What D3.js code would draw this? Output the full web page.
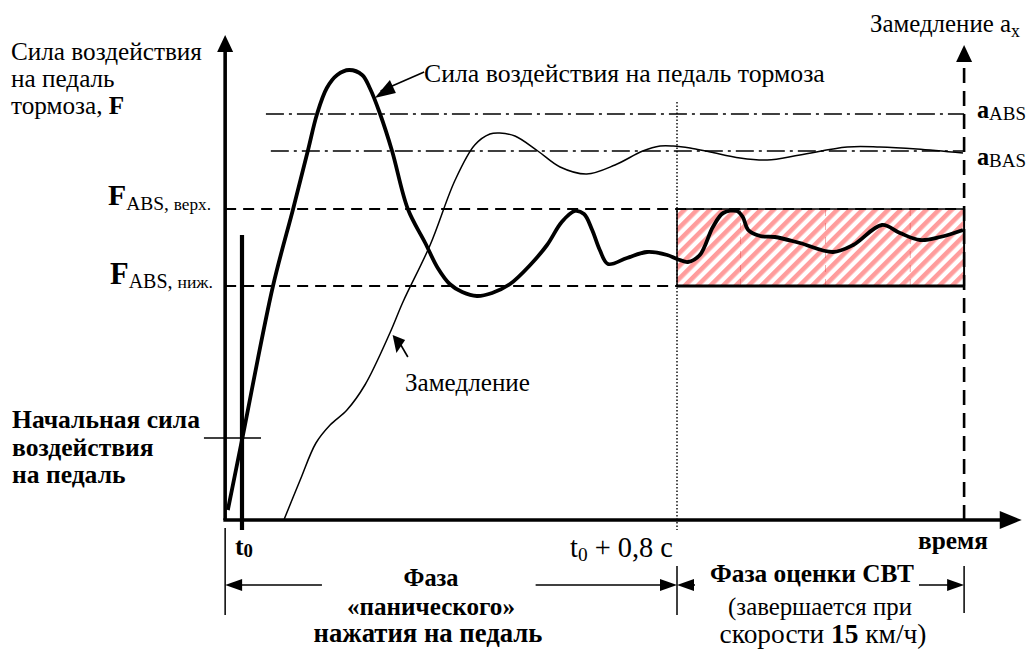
<!DOCTYPE html>
<html><head><meta charset="utf-8">
<script src="https://cdn.jsdelivr.net/npm/d3@7"></script>
<style>body{margin:0;background:#fff}</style>
</head><body>
<svg id="c" width="1028" height="653"></svg>
<script>
// ---- data (time in s from t0, values in relative units 0..100) ----
const forceT=[-0.026,0,0.057,0.094,0.121,0.138,0.156,0.175,0.197,0.221,0.235,0.254,0.276,0.305,0.337,0.360,0.382,0.405,0.432,0.460,0.493,0.530,0.561,0.588,0.612,0.629,0.644,0.658,0.673,0.708,0.745,0.782,0.800,0.820,0.842,0.866,0.885,0.910,0.921,0.931,0.953,0.980,1.026,1.087,1.124,1.177,1.210,1.247,1.284,1.326];
const forceV=[2.0,16.0,46.8,62.2,73.8,81.2,86.4,89,90,89,86.4,81.2,73.8,62.2,55.4,50.4,47.2,45.6,44.8,45.4,47.2,51,55,59.6,61.8,61.2,58,54,51.2,52.4,53.6,53,52.2,51.6,53,58.6,61.4,61.8,60.6,58,56.8,56.6,55.4,53.6,55,59,57.4,56,56.6,58];
const decelT=[0.077,0.107,0.136,0.162,0.193,0.226,0.272,0.296,0.346,0.392,0.428,0.456,0.474,0.502,0.544,0.585,0.634,0.686,0.737,0.769,0.793,0.824,0.861,0.916,0.966,1.026,1.113,1.173,1.241,1.326];
const decelV=[0,8,15.4,19,22,27,37.4,43.6,55,68,75,77.2,77.4,76.8,73.8,70.6,69.2,71,73.8,74.8,74.8,74.4,73.6,72.4,72,73,74.6,74.6,74.2,73.4];
const levelNames=["aABS","aBAS","FabsTop","FabsBottom","Finit"];
const levelValues=[81.2,73.8,62.2,46.8,16.4];
const phaseTimes=[0,0.8,1.328];      // t0, t0+0.8 c, end of evaluation phase
const axisTimes=[-0.031,1.434];      // origin, arrow tip
const axisTop=[97,95];               // left / right axis arrow tips

const FONT='"Liberation Serif"';
const svg=d3.select("#c");
const x=d3.scaleLinear().domain([0,0.8]).range([242,677]);
const y=d3.scaleLinear().domain([0,100]).range([520,20]);
const lv=n=>levelValues[levelNames.indexOf(n)];
const X0=x(axisTimes[0]), XT=x(axisTimes[1]), Y0=y(0);
const X1=x(phaseTimes[1]), X2=x(phaseTimes[2]), XT0=x(phaseTimes[0]);

function line(x1,y1,x2,y2,w,dash){
  const l=svg.append("line").attr("x1",x1).attr("y1",y1).attr("x2",x2).attr("y2",y2)
   .attr("stroke","#000").attr("stroke-width",w);
  if(dash) l.attr("stroke-dasharray",dash);
  return l;
}
function head(tx,ty,dir,len,half){
  let p;
  if(dir==="up") p=[[tx,ty],[tx-half,ty+len],[tx+half,ty+len]];
  else if(dir==="right") p=[[tx,ty],[tx-len,ty-half],[tx-len,ty+half]];
  else p=[[tx,ty],[tx+len,ty-half],[tx+len,ty+half]];
  svg.append("path").attr("d","M"+p.join("L")+"Z").attr("fill","#000");
}

// hatch pattern
const defs=svg.append("defs");
const pat=defs.append("pattern").attr("id","hatch").attr("patternUnits","userSpaceOnUse")
 .attr("width",9).attr("height",9).attr("patternTransform","rotate(45)");
pat.append("rect").attr("width",4.6).attr("height",9).attr("fill","#ff9c9c");

// evaluation rectangle
svg.append("rect").attr("x",X1).attr("y",y(lv("FabsTop"))).attr("width",X2-X1)
 .attr("height",y(lv("FabsBottom"))-y(lv("FabsTop"))).attr("fill","url(#hatch)");
[0.917,1.073,1.229].forEach(t=>svg.append("line").attr("x1",x(t)).attr("x2",x(t))
 .attr("y1",y(lv("FabsTop"))).attr("y2",y(lv("FabsBottom"))).attr("stroke","#e03030")
 .attr("stroke-width",0.7).attr("stroke-dasharray","7,7").attr("opacity",0.6));
line(X1,y(lv("FabsTop")),X2,y(lv("FabsTop")),1.5);
line(X1,y(lv("FabsBottom")),X2,y(lv("FabsBottom")),3);
line(X1,y(lv("FabsTop")),X1,y(lv("FabsBottom")),1.5);
line(X2,y(lv("FabsTop")),X2,y(lv("FabsBottom")),2);

// reference levels
line(x(0.044),y(lv("aABS")),X2,y(lv("aABS")),1.6,"18,5,3,5");
line(x(0.053),y(lv("aBAS")),X2,y(lv("aBAS")),1.6,"18,5,3,5");
line(X0,y(lv("FabsTop")),X2,y(lv("FabsTop")),2.2,"11,7");
line(X0,y(lv("FabsBottom")),X2,y(lv("FabsBottom")),2.2,"11,7");
line(x(-0.070),y(lv("Finit")),x(0.035),y(lv("Finit")),1.6);

// dotted t0+0.8 line
line(X1,y(83.6),X1,Y0+10,1.4,"1.5,2");

// right dashed axis
line(X2,Y0,X2,y(axisTop[1])+14,2.6,"15,8");
head(X2,y(axisTop[1]),"up",17,8);

// curves
const gen=d3.line().x(d=>x(d[0])).y(d=>y(d[1])).curve(d3.curveCatmullRom.alpha(0.5));
svg.append("path").attr("d",gen(decelT.map((t,i)=>[t,decelV[i]])))
 .attr("fill","none").attr("stroke","#000").attr("stroke-width",1.5);
svg.append("path").attr("d",gen(forceT.map((t,i)=>[t,forceV[i]])))
 .attr("fill","none").attr("stroke","#000").attr("stroke-width",3.8).attr("stroke-linejoin","round");

// axes
line(X0,Y0,X0,y(axisTop[0])+14,3.6);
head(X0,y(axisTop[0]),"up",17,8);
line(X0-1.8,Y0,XT-18,Y0,3.6);
head(XT,Y0,"right",22,9);
// t0 marker
line(XT0,y(lv("FabsBottom"))-51,XT0,Y0+10,4.2);

// annotation arrows
line(x(0.335),72,x(0.255),91,1.6);
svg.append("path").attr("d","M"+[[x(0.244),98],[x(0.272),80],[x(0.283),93]].join("L")+"Z");
line(x(0.305),357,x(0.290),343,1.6);
svg.append("path").attr("d","M"+[[x(0.277),335],[x(0.300),340],[x(0.284),353]].join("L")+"Z");

// dimension lines
const yd=585;
line(X0,528,X0,615,1.5);
line(X1,566,X1,615,1.5);
line(X2,566,X2,613,1.5);
line(X0+10,yd,x(0.147),yd,1.5); head(X0,yd,"left",17,6);
line(x(0.540),yd,X1-10,yd,1.5); head(X1,yd,"right",17,6);
line(X1+10,yd,X1+18,yd,1.5); head(X1,yd,"left",17,6);
line(x(1.245),yd,X2-10,yd,1.5); head(X2,yd,"right",17,6);

// ---- texts ----
function txt(xx,yy,size,weight,anchor){
  const s=svg.append("text").attr("x",xx).attr("y",yy).attr("font-size",size)
   .attr("text-anchor",anchor||"start").style("font-family",FONT).attr("fill","#000");
  if(weight) s.attr("font-weight",weight);
  return s;
}
// scale a text (and its tspans) so that it spans the given width
function fit(sel,w){
  const n=sel.node(), len=n.getComputedTextLength();
  if(!len) return 1;
  const k=w/len;
  sel.attr("font-size",+sel.attr("font-size")*k);
  sel.selectAll("tspan").each(function(){
    const s=d3.select(this);
    if(s.attr("font-size")) s.attr("font-size",+s.attr("font-size")*k);
    if(s.attr("dy")) s.attr("dy",+s.attr("dy")*k);
  });
  return k;
}
let k=fit(txt(11,60,23).text("Сила воздействия"),191);
txt(11,87,23*k).text("на педаль");
let t=txt(11,114,23*k); t.append("tspan").text("тормоза, "); t.append("tspan").attr("font-weight","bold").text("F");

k=fit(txt(12,428,21,"bold").text("Начальная сила"),188);
txt(12,456,21*k,"bold").text("воздействия");
txt(12,483,21*k,"bold").text("на педаль");

t=txt(108,205,26,"bold"); t.append("tspan").text("F");
t.append("tspan").attr("font-size",17).attr("font-weight","normal").attr("dy",4).text("ABS, ");
t.append("tspan").attr("font-size",15).attr("font-weight","normal").text("верх.");
fit(t,103);
t=txt(110,284,26,"bold"); t.append("tspan").text("F");
t.append("tspan").attr("font-size",17).attr("font-weight","normal").attr("dy",3).text("ABS, ");
t.append("tspan").attr("font-size",15).attr("font-weight","normal").text("ниж.");
fit(t,103);

t=txt(977,118,23,"bold"); t.append("tspan").text("a");
t.append("tspan").attr("font-size",18).attr("font-weight","normal").attr("dy",2).text("ABS");
fit(t,49);
t=txt(977,165,23,"bold"); t.append("tspan").text("a");
t.append("tspan").attr("font-size",18).attr("font-weight","normal").attr("dy",2).text("BAS");
fit(t,49);

t=txt(870,32,21); t.append("tspan").text("Замедление a");
t.append("tspan").attr("font-size",15).attr("dy",4).text("x");
fit(t,150);

fit(txt(424,82,22).text("Сила воздействия на педаль тормоза"),401);
fit(txt(405,391,22).text("Замедление"),125);

t=txt(235,555,22,"bold"); t.append("tspan").text("t"); t.append("tspan").attr("font-size",16).attr("dy",2).text("0");
fit(t,18);
t=txt(570,557,22); t.append("tspan").text("t"); t.append("tspan").attr("font-size",15).attr("dy",3).text("0");
t.append("tspan").attr("dy",-3).text(" + 0,8 с");
fit(t,103);
fit(txt(918,549,20,"bold").text("время"),70);

fit(txt(431,586,20,"bold","middle").text("Фаза"),55);
fit(txt(431,615,20,"bold","middle").text("«панического»"),168);
fit(txt(428,642,20,"bold","middle").text("нажатия на педаль"),229);

fit(txt(812,582,21,"bold","middle").text("Фаза оценки СВТ"),204);
fit(txt(820,615,21,null,"middle").text("(завершается при"),184);
t=txt(823,643,21,null,"middle"); t.append("tspan").text("скорости ");
t.append("tspan").attr("font-weight","bold").text("15"); t.append("tspan").text(" км/ч)");
fit(t,207);
</script>
</body></html>
